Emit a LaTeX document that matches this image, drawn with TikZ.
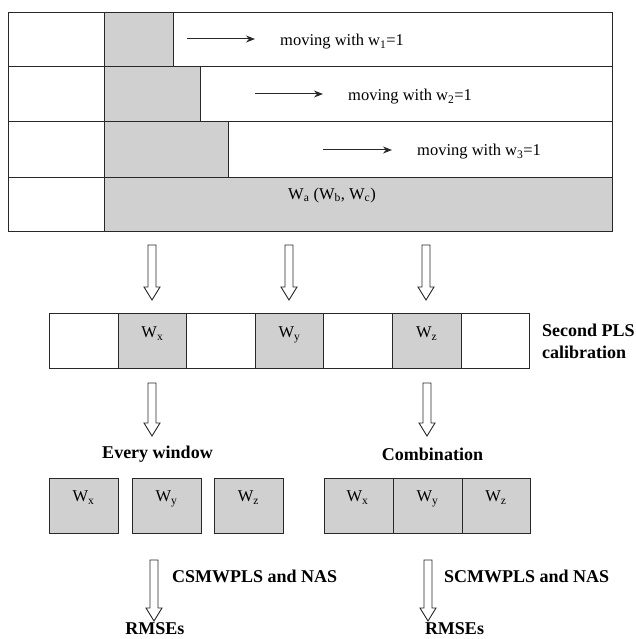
\documentclass[tikz,border=0pt]{standalone}
\usepackage{fontspec}
\setmainfont{Liberation Serif}
\usetikzlibrary{arrows.meta,calc}
\definecolor{cellgray}{RGB}{208,208,208}
\definecolor{linecol}{RGB}{40,40,40}
\newcommand\hollowdown[2]{%
  \draw[hollow] let \p1=(#1), \p2=(#2) in
    (\x1-4pt,\y1) -- (\x1+4pt,\y1) -- (\x1+4pt,\y2+13pt) -- (\x1+8pt,\y2+13pt)
    -- (\x1,\y2) -- (\x1-8pt,\y2+13pt) -- (\x1-4pt,\y2+13pt) -- cycle;}
\begin{document}
\begin{tikzpicture}[x=1pt,y=-1pt,
  grid/.style={line width=1pt, draw=linecol},
  shadebox/.style={grid, fill=cellgray},
  lab/.style={font=\fontsize{16.5}{19}\selectfont, inner sep=0pt},
  wlab/.style={lab, anchor=base},
  blab/.style={font=\fontsize{18}{22}\selectfont\bfseries, inner sep=0pt},
  hollow/.style={line width=0.9pt, draw=linecol, fill=white},
  mv/.style={line width=1pt, draw=linecol, -{Stealth[length=9pt,width=7pt]}}
]
\useasboundingbox (0,0) rectangle (636,639);

% ---------- top table ----------
\draw[shadebox] (104,13) rectangle (173,67);
\draw[shadebox] (104,67) rectangle (200,122);
\draw[shadebox] (104,122) rectangle (228,177);
\draw[shadebox] (104,177) rectangle (612,231);
\draw[grid] (8,13) rectangle (612,231);
\draw[grid] (8,67) -- (612,67);
\draw[grid] (8,122) -- (612,122);
\draw[grid] (8,177) -- (612,177);
\draw[grid] (104,13) -- (104,231);

\coordinate (m1s) at (187,39);  \coordinate (m1e) at (255,39);
\coordinate (m2s) at (255,94);  \coordinate (m2e) at (323,94);
\coordinate (m3s) at (323,150); \coordinate (m3e) at (392,150);
\draw[mv] (m1s) -- (m1e);
\draw[mv] (m2s) -- (m2e);
\draw[mv] (m3s) -- (m3e);
\node[lab, anchor=west] (t1) at (280,42) {moving with w\textsubscript{1}=1};
\node[lab, anchor=west] (t2) at (348,97) {moving with w\textsubscript{2}=1};
\node[lab, anchor=west] (t3) at (417,152) {moving with w\textsubscript{3}=1};
\node[lab, anchor=base west] (wa) at (288,199) {W\textsubscript{a} (W\textsubscript{b}, W\textsubscript{c})};

% ---------- arrows to second row ----------
\coordinate (a1s) at (152,245); \coordinate (a1e) at (152,300);
\coordinate (a2s) at (289,245); \coordinate (a2e) at (289,300);
\coordinate (a3s) at (426,245); \coordinate (a3e) at (426,300);
\hollowdown{a1s}{a1e}
\hollowdown{a2s}{a2e}
\hollowdown{a3s}{a3e}

% ---------- second row ----------
\draw[shadebox] (118.1,313) rectangle (186.7,368);
\draw[shadebox] (255.2,313) rectangle (323.8,368);
\draw[shadebox] (392.4,313) rectangle (461,368);
\draw[grid] (49.5,313) rectangle (529.5,368);
\foreach \xx in {118.1,186.7,255.2,323.8,392.4,461}
  \draw[grid] (\xx,313) -- (\xx,368);
\node[wlab] (sx) at (152.4,337.5) {W\textsubscript{x}};
\node[wlab] (sy) at (289.5,337.5) {W\textsubscript{y}};
\node[wlab] (sz) at (426.7,337.5) {W\textsubscript{z}};
\node[blab, anchor=west, align=left] (spls) at (542,341) {Second PLS\\calibration};

% ---------- arrows to third row ----------
\coordinate (b1s) at (152,383); \coordinate (b1e) at (152,436);
\coordinate (b2s) at (427,383); \coordinate (b2e) at (427,436);
\hollowdown{b1s}{b1e}
\hollowdown{b2s}{b2e}
\node[blab] (every) at (157.5,454) {Every window};
\node[blab] (comb) at (432.5,454) {Combination};

% ---------- third row ----------
\draw[shadebox] (49,478) rectangle (118,533);
\draw[shadebox] (132,478) rectangle (201,533);
\draw[shadebox] (214,478) rectangle (283,533);
\draw[shadebox] (324,478) rectangle (530,533);
\draw[grid] (393,478) -- (393,533);
\draw[grid] (462,478) -- (462,533);
\node[wlab] (ex) at (83.5,501.5) {W\textsubscript{x}};
\node[wlab] (ey) at (166.5,501.5) {W\textsubscript{y}};
\node[wlab] (ez) at (248.5,501.5) {W\textsubscript{z}};
\node[wlab] (cx) at (357.5,501.5) {W\textsubscript{x}};
\node[wlab] (cy) at (427.5,501.5) {W\textsubscript{y}};
\node[wlab] (cz) at (496,501.5) {W\textsubscript{z}};

% ---------- bottom arrows ----------
\coordinate (c1s) at (154,560); \coordinate (c1e) at (154,621);
\coordinate (c2s) at (428,560); \coordinate (c2e) at (428,621);
\hollowdown{c1s}{c1e}
\hollowdown{c2s}{c2e}
\node[blab, anchor=west] (csm) at (172,576) {CSMWPLS and NAS};
\node[blab, anchor=west] (scm) at (444,576) {SCMWPLS and NAS};
\node[blab] (r1) at (155,629) {RMSEs};
\node[blab] (r2) at (454.5,629) {RMSEs};
\end{tikzpicture}
\end{document}
